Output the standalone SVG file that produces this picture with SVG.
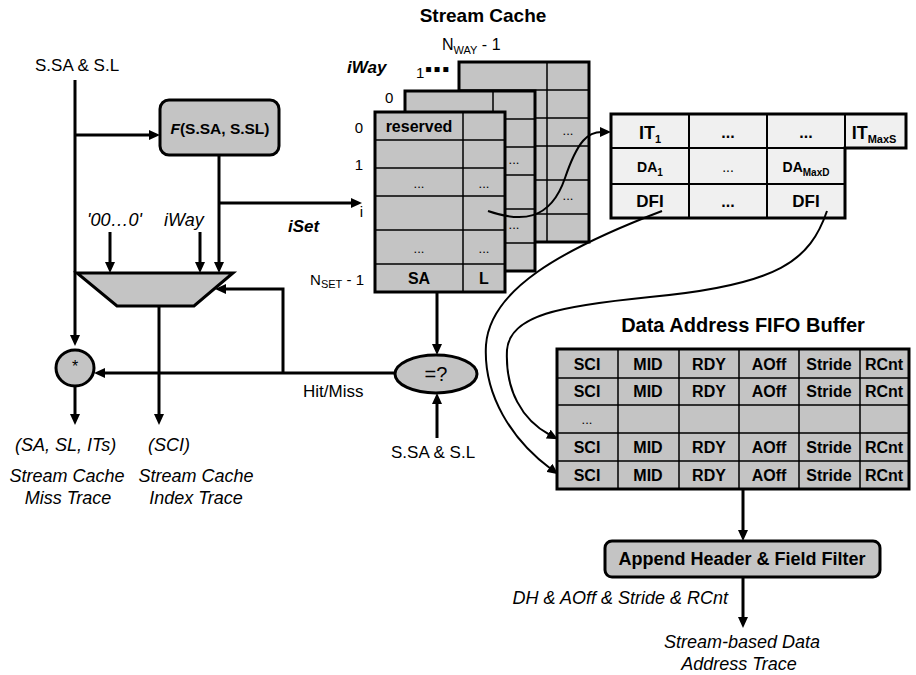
<svg xmlns="http://www.w3.org/2000/svg" width="916" height="675" viewBox="0 0 916 675">
<style>
.bg{fill:#fff}
.gf{fill:#c4c4c4;stroke:#000;stroke-width:3}
.lf{fill:#f0f0f0;stroke:#000;stroke-width:3}
.gr{fill:none;stroke:#000;stroke-width:1.5}
.gr2{fill:none;stroke:#000;stroke-width:2}
.ln{fill:none;stroke:#000;stroke-width:3}
.cv{fill:none;stroke:#000;stroke-width:2}
text{font-family:"Liberation Sans",Arial,sans-serif;fill:#000}
.t{font-size:17px}
.it{font-size:18px;font-style:italic}
.b{font-weight:bold}
.bi{font-weight:bold;font-style:italic;font-size:17px}
.c{text-anchor:middle}
.e{text-anchor:end}
.cell{font-size:16px;font-weight:bold;text-anchor:middle}
.dots{font-size:13px;text-anchor:middle}
.rl{font-size:15px;text-anchor:end}
</style>
<defs>
<marker id="ah" markerWidth="11" markerHeight="10" refX="2" refY="5" orient="auto" markerUnits="userSpaceOnUse"><path d="M0,0 L11,5 L0,10 z" fill="#000"/></marker>
</defs>
<rect class="bg" x="0" y="0" width="916" height="675"/>

<!-- Stream cache labels -->
<text class="b c" x="483" y="22" font-size="19">Stream Cache</text>
<text x="442" y="50" font-size="16">N<tspan font-size="11" dy="4">WAY</tspan><tspan dy="-4"> - 1</tspan></text>
<text class="bi" x="347" y="73">iWay</text>
<text x="416" y="78" font-size="15">1</text>
<text x="425" y="76" font-size="20" letter-spacing="1.5" font-family="DejaVu Sans, sans-serif">▪▪▪</text>
<text x="385" y="103" font-size="15">0</text>
<text class="rl" x="363" y="133">0</text>
<text class="rl" x="363" y="170">1</text>
<text class="rl" x="363" y="217">i</text>
<text class="rl" x="364" y="285">N<tspan font-size="11" dy="3">SET</tspan><tspan dy="-3"> - 1</tspan></text>

<!-- Back sheet -->
<g id="way-back" transform="translate(459,62)">
<rect class="gf" x="0" y="0" width="130" height="180"/>
<path class="gr" d="M0,28H130M0,56H130M0,84H130M0,118H130M0,152H130M88,0V180"/>
<text class="dots" x="109" y="73">...</text>
<text class="dots" x="109" y="138">...</text>
</g>
<!-- Middle sheet -->
<g id="way-0" transform="translate(405,91)">
<rect class="gf" x="0" y="0" width="130" height="180"/>
<path class="gr" d="M0,28H130M0,56H130M0,84H130M0,118H130M0,152H130M88,0V180"/>
<text class="dots" x="109" y="73">...</text>
<text class="dots" x="109" y="138">...</text>
</g>
<!-- Front sheet -->
<g id="way-front" transform="translate(375,112)">
<rect class="gf" x="0" y="0" width="130" height="180"/>
<path class="gr" d="M0,28H130M0,56H130M0,84H130M0,118H130M0,152H130M88,0V180"/>
<text class="cell" x="44" y="20" font-size="15">reserved</text>
<text class="dots" x="44" y="76">...</text>
<text class="dots" x="109" y="76">...</text>
<text class="dots" x="44" y="141">...</text>
<text class="dots" x="109" y="141">...</text>
<text class="cell" x="44" y="172">SA</text>
<text class="cell" x="109" y="172">L</text>
</g>

<!-- F box -->
<g id="hash">
<rect class="gf" x="160" y="100" width="119" height="55" rx="9"/>
<text class="b c" x="220" y="134" font-size="15.5"><tspan font-style="italic">F</tspan>(S.SA, S.SL)</text>
</g>

<!-- Mux -->
<g id="mux">
<polygon class="gf" points="77,273 233,273 194,306 117,306"/>
</g>

<!-- star circle -->
<g id="star">
<ellipse class="gf" cx="75" cy="368" rx="19" ry="18" stroke-width="2"/>
<text class="c" x="75" y="372" font-size="16">*</text>
</g>

<!-- compare -->
<g id="compare">
<ellipse class="gf" cx="436" cy="374" rx="41" ry="19" stroke-width="2"/>
<text class="c" x="436" y="381" font-size="20">=?</text>
</g>

<!-- IT table -->
<g id="it-table">
<path class="lf" d="M611,114H906V148H845V218H611Z"/>
<path class="gr2" d="M611,148H845M611,184H845M689,114V218M767,114V218M845,114V148"/>
<text class="b c" x="650" y="139" font-size="18">IT<tspan font-size="11" dy="4">1</tspan></text>
<text class="b c" x="728" y="138" font-size="16">...</text>
<text class="b c" x="806" y="138" font-size="16">...</text>
<text class="b c" x="874" y="139" font-size="18">IT<tspan font-size="11" dy="4">MaxS</tspan></text>
<text class="c" x="650" y="172" font-size="14" font-weight="bold">DA<tspan font-size="10" dy="4">1</tspan></text>
<text class="c" x="728" y="172" font-size="14">...</text>
<text class="c" x="806" y="172" font-size="14" font-weight="bold">DA<tspan font-size="10" dy="4">MaxD</tspan></text>
<text class="b c" x="650" y="207" font-size="17">DFI</text>
<text class="b c" x="728" y="207" font-size="16">...</text>
<text class="b c" x="806" y="207" font-size="17">DFI</text>
</g>

<!-- FIFO -->
<text class="b c" x="743" y="332" font-size="20">Data Address FIFO Buffer</text>
<g id="fifo">
<rect class="gf" x="557" y="349" width="352" height="140"/>
<path class="gr" d="M557,378H909M557,405H909M557,433H909M557,461H909M618,349V489M679,349V489M739,349V489M799,349V489M860,349V489"/>
<g>
<text class="cell" x="587" y="370">SCI</text><text class="cell" x="648" y="370">MID</text><text class="cell" x="709" y="370">RDY</text><text class="cell" x="769" y="370">AOff</text><text class="cell" x="829" y="370">Stride</text><text class="cell" x="884" y="370">RCnt</text>
<text class="cell" x="587" y="397">SCI</text><text class="cell" x="648" y="397">MID</text><text class="cell" x="709" y="397">RDY</text><text class="cell" x="769" y="397">AOff</text><text class="cell" x="829" y="397">Stride</text><text class="cell" x="884" y="397">RCnt</text>
<text class="dots" x="587" y="424">...</text>
<text class="cell" x="587" y="453">SCI</text><text class="cell" x="648" y="453">MID</text><text class="cell" x="709" y="453">RDY</text><text class="cell" x="769" y="453">AOff</text><text class="cell" x="829" y="453">Stride</text><text class="cell" x="884" y="453">RCnt</text>
<text class="cell" x="587" y="481">SCI</text><text class="cell" x="648" y="481">MID</text><text class="cell" x="709" y="481">RDY</text><text class="cell" x="769" y="481">AOff</text><text class="cell" x="829" y="481">Stride</text><text class="cell" x="884" y="481">RCnt</text>
</g>
</g>

<!-- Append box -->
<g id="append">
<rect class="gf" x="605" y="541" width="275" height="36" rx="7"/>
<text class="b c" x="742" y="565" font-size="18">Append Header &amp; Field Filter</text>
</g>

<!-- Connectors -->
<g id="connectors">
<path class="ln" d="M75,80V337" marker-end="url(#ah)"/>
<path class="ln" d="M75,135H151" marker-end="url(#ah)"/>
<path class="ln" d="M219,155V264" marker-end="url(#ah)"/>
<path class="ln" d="M219,203H353" marker-end="url(#ah)"/>
<path class="ln" d="M110,232V264" marker-end="url(#ah)"/>
<path class="ln" d="M200,232V264" marker-end="url(#ah)"/>
<path class="ln" d="M159,306V416" marker-end="url(#ah)"/>
<path class="ln" d="M75,386V416" marker-end="url(#ah)"/>
<path class="ln" d="M395,373H103" marker-end="url(#ah)"/>
<path class="ln" d="M283,373V289H224" marker-end="url(#ah)"/>
<path class="ln" d="M437,292V346" marker-end="url(#ah)"/>
<path class="ln" d="M437,438V402" marker-end="url(#ah)"/>
<path class="cv" d="M488,211C520,222 550,222 565,178C578,140 588,132 602,132" marker-end="url(#ah)"/>
<path class="cv" d="M662,211C560,250 490,290 486,345C483,395 512,440 551,469" marker-end="url(#ah)"/>
<path class="cv" d="M827,211C810,260 780,285 650,297C560,306 510,315 507,350C505,390 522,420 550,435" marker-end="url(#ah)"/>
<path class="ln" d="M743,489V532" marker-end="url(#ah)"/>
<path class="ln" d="M743,577V619" marker-end="url(#ah)"/>
</g>

<!-- Labels -->
<text class="t" x="35" y="71">S.SA &amp; S.L</text>
<text class="it" x="87" y="226">'00…0'</text>
<text class="it" x="164" y="226">iWay</text>
<text class="bi" x="288" y="232">iSet</text>
<text class="t" x="303" y="397">Hit/Miss</text>
<text class="t" x="391" y="458">S.SA &amp; S.L</text>
<text class="it" x="15" y="451">(SA, SL, ITs)</text>
<text class="it" x="148" y="451">(SCI)</text>
<text class="it c" x="67" y="482">Stream Cache</text>
<text class="it c" x="68" y="504">Miss Trace</text>
<text class="it c" x="196" y="482">Stream Cache</text>
<text class="it c" x="196" y="504">Index Trace</text>
<text class="it e" x="728" y="604">DH &amp; AOff &amp; Stride &amp; RCnt</text>
<text class="it c" x="742" y="648">Stream-based Data</text>
<text class="it c" x="739" y="670">Address Trace</text>
</svg>
